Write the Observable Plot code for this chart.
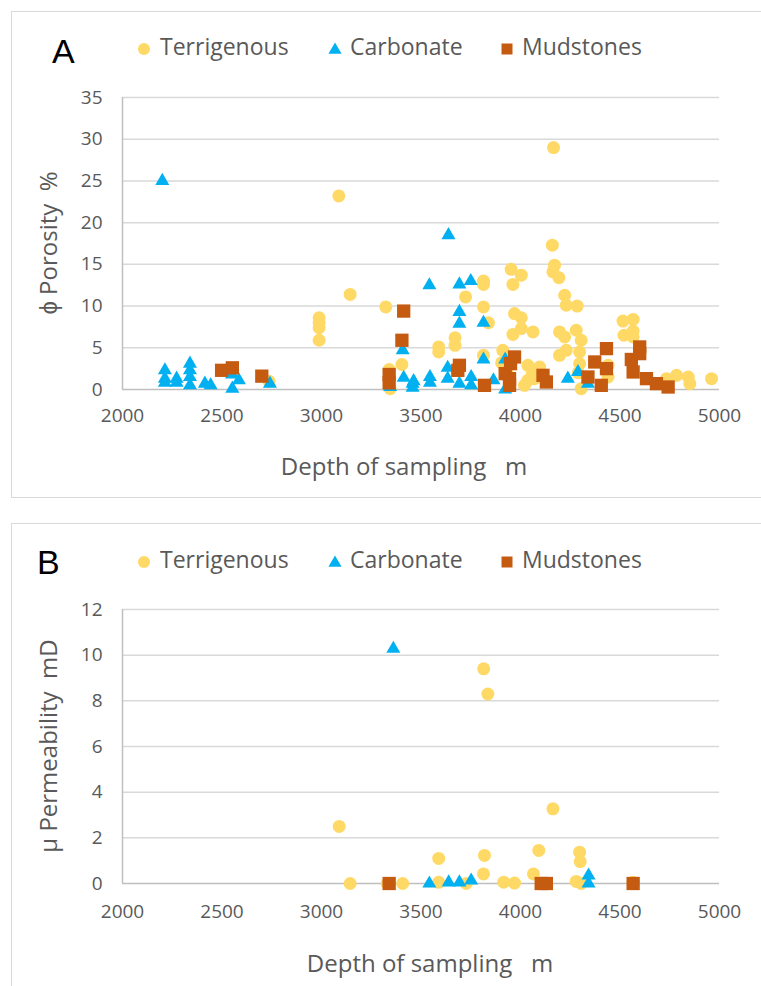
<!DOCTYPE html>
<html>
<head>
<meta charset="utf-8">
<script src="https://cdn.jsdelivr.net/npm/d3@7"></script>
<script src="https://cdn.jsdelivr.net/npm/@observablehq/plot@0.6"></script>
<style>
html, body { margin: 0; padding: 0; background: #fff; overflow: hidden; }
#page { position: relative; width: 761px; height: 986px; overflow: hidden; background: #fff; font-family: "Open Sans", sans-serif; }
.box { position: absolute; border: 1.5px solid #d9d9d9; box-sizing: border-box; }
.plot { position: absolute; left: 0; }
#overlay { position: absolute; left: 0; top: 0; pointer-events: none; }
</style>
</head>
<body>
<div id="page">
  <div class="box" style="left:11px;top:11px;width:770px;height:487px;"></div>
  <div class="box" style="left:11px;top:523px;width:770px;height:480px;"></div>
  <div id="plotA" class="plot" style="top:0px;"></div>
  <div id="plotB" class="plot" style="top:497px;"></div>
</div>
<script>
// ---------- tick labels ----------
const depthTicks = [2000, 2500, 3000, 3500, 4000, 4500, 5000];
const porosityTicks = [0, 5, 10, 15, 20, 25, 30, 35];
const permeabilityTicks = [0, 2, 4, 6, 8, 10, 12];

// ---------- categories ----------
const categories = ["Terrigenous", "Carbonate", "Mudstones"];
const colors = ["#FFD966", "#00B0F0", "#C55A11"];

// ---------- Panel A: porosity (%) vs depth (m) ----------
const poroTerrDepth = [2736, 2988, 2988, 2988, 2988, 3087, 3144, 3323, 3340, 3345, 3404, 3589, 3589, 3671, 3671, 3724,
  3814, 3814, 3814, 3814, 3839, 3911, 3905, 3930, 3953, 4004, 3962, 3970, 4004, 3962, 4004, 4063,
  4037, 4037, 4096, 4020, 4060, 4070, 4166, 4160, 4171, 4163, 4193, 4222, 4230, 4285, 4196, 4222, 4280, 4305,
  4196, 4230, 4297, 4297, 4290, 4305, 4440, 4440, 4515, 4566, 4520, 4566, 4566, 4734, 4784, 4843, 4851, 4960];
const poroTerrValue = [1.0, 8.6, 8.0, 7.4, 5.9, 23.2, 11.4, 9.9, 2.4, 0.1, 3.0, 5.1, 4.5, 6.2, 5.3, 11.1,
  13.0, 12.6, 9.9, 4.1, 8.0, 4.7, 3.2, 2.2, 14.4, 13.7, 12.6, 9.1, 8.6, 6.6, 7.3, 6.9,
  2.9, 1.1, 2.7, 0.5, 2.0, 1.3, 29.0, 17.3, 14.9, 14.1, 13.4, 11.3, 10.1, 10.0, 6.9, 6.3, 7.1, 5.9,
  4.1, 4.7, 4.5, 3.1, 2.0, 0.1, 2.9, 1.5, 8.2, 8.4, 6.5, 6.3, 7.0, 1.3, 1.7, 1.5, 0.7, 1.3];

const poroCarbDepth = [2200, 2213, 2213, 2213, 2272, 2272, 2339, 2339, 2339, 2339, 2414, 2443, 2552, 2550, 2585, 2741,
  3345, 3408, 3413, 3463, 3458, 3458, 3542, 3545, 3545, 3634, 3634, 3638, 3693, 3750, 3693, 3693, 3693,
  3752, 3752, 3814, 3814, 3864, 3923, 3923, 4238, 4289, 4339];
const poroCarbValue = [25.0, 2.3, 1.3, 0.8, 1.3, 0.8, 3.1, 2.3, 1.5, 0.5, 0.7, 0.5, 0.1, 1.8, 1.1, 0.7,
  0.3, 4.7, 1.4, 1.0, 0.2, 0.7, 12.5, 1.5, 0.8, 2.6, 1.3, 18.5, 12.6, 13.0, 9.3, 7.9, 0.7,
  1.5, 0.5, 8.0, 3.6, 1.1, 0.0, 3.6, 1.3, 2.1, 0.7];

const poroMudDepth = [2498, 2552, 2700, 3340, 3340, 3413, 3404, 3693, 3685, 3819, 3923, 3945, 3970, 3945, 3950,
  4113, 4130, 4432, 4373, 4432, 4406, 4339, 4599, 4557, 4599, 4566, 4633, 4683, 4742];
const poroMudValue = [2.3, 2.6, 1.6, 1.8, 0.8, 9.4, 5.9, 2.9, 2.3, 0.5, 1.9, 1.3, 3.9, 0.5, 3.1,
  1.7, 0.9, 4.9, 3.3, 2.5, 0.5, 1.5, 5.1, 3.6, 4.3, 2.1, 1.3, 0.7, 0.3];

// ---------- Panel B: permeability (mD) vs depth (m) ----------
const permTerrDepth = [3089, 3144, 3330, 3408, 3589, 3589, 3727, 3815, 3836, 3819, 3814, 3916, 3970, 4065, 4092, 4163,
  4297, 4300, 4280, 4305, 4566];
const permTerrValue = [2.5, 0.0, 0.0, 0.0, 1.1, 0.05, 0.0, 9.4, 8.3, 1.23, 0.42, 0.06, 0.02, 0.42, 1.45, 3.27,
  1.37, 0.96, 0.09, 0.0, 0.05];

const permCarbDepth = [3361, 3542, 3639, 3693, 3752, 4342, 4342];
const permCarbValue = [10.28, 0.0, 0.05, 0.05, 0.13, 0.35, 0.0];

const permMudDepth = [3340, 4104, 4130, 4566];
const permMudValue = [0.0, 0.0, 0.0, 0.0];

// ---------- build tables ----------
const zip = (d, v) => d.map((x, i) => ({depth: x, value: v[i]}));

function panel(seriesData, yDomain, yTicks, cfg) {
  const symbols = ["circle", "triangle", "square"];
  const radii = [6.5, 5.2, 7.5];
  return Plot.plot({
    width: 761,
    height: cfg.height,
    marginLeft: 122,
    marginRight: 42,
    marginTop: cfg.mt,
    marginBottom: cfg.mb,
    x: {domain: [2000, 5000]},
    y: {domain: yDomain},
    style: {fontFamily: "'Open Sans', sans-serif", fontSize: "19px", color: "#595959", background: "transparent", overflow: "visible"},
    marks: [
      Plot.gridY(yTicks.filter(d => d > 0), {stroke: "#d9d9d9", strokeOpacity: 1, strokeWidth: 1.5}),
      Plot.ruleX([2000], {stroke: "#bfbfbf", strokeWidth: 1.5}),
      Plot.ruleY([0], {stroke: "#bfbfbf", strokeWidth: 1.5}),
      Plot.axisX({ticks: depthTicks, tickSize: 0, tickPadding: cfg.xpad, tickFormat: d => String(d), label: null, fill: "#595959"}),
      Plot.axisY({ticks: yTicks, tickSize: 0, tickPadding: 20, tickFormat: d => String(d), label: null, fill: "#595959"}),
      ...seriesData.map((data, i) => Plot.dot(data, {x: "depth", y: "value", symbol: symbols[i], r: radii[i], fill: colors[i], stroke: "none"}))
    ]
  });
}

const plotA = panel(
  [zip(poroTerrDepth, poroTerrValue), zip(poroCarbDepth, poroCarbValue), zip(poroMudDepth, poroMudValue)],
  [0, 35], porosityTicks, {height: 497, mt: 97, mb: 108, xpad: 19}
);
document.getElementById("plotA").appendChild(plotA);

const plotB = panel(
  [zip(permTerrDepth, permTerrValue), zip(permCarbDepth, permCarbValue), zip(permMudDepth, permMudValue)],
  [0, 12], permeabilityTicks, {height: 489, mt: 112, mb: 103, xpad: 21}
);
document.getElementById("plotB").appendChild(plotB);

// ---------- overlay: panel letters, legends, axis titles ----------
const svg = d3.select("#page").append("svg").attr("id", "overlay").attr("width", 761).attr("height", 986);

function legendAndTitles(g, cfg) {
  g.append("text").attr("x", cfg.letterX).attr("y", cfg.letterY).text(cfg.letter)
    .attr("font-family", "'Liberation Sans', Arial, sans-serif").attr("font-size", 34).attr("fill", "#000");
  const symX = [144, 335, 507];
  const txtX = [160, 350, 522];
  const symTypes = [d3.symbolCircle, d3.symbolTriangle, d3.symbolSquare];
  const symSizes = [Math.PI * 36, 75, 121];
  categories.forEach((c, i) => {
    g.append("path").attr("d", d3.symbol(symTypes[i], symSizes[i])())
      .attr("transform", `translate(${symX[i]},${cfg.legY - 6 + (i === 1 ? 1 : 0)})`).attr("fill", colors[i]);
    g.append("text").attr("x", txtX[i]).attr("y", cfg.legY).text(c)
      .attr("font-family", "'Open Sans', sans-serif").attr("font-size", 23).attr("fill", "#595959");
  });
  g.append("text").attr("x", cfg.xTitleX).attr("y", cfg.xTitleY).attr("text-anchor", "middle")
    .attr("font-family", "'Open Sans', sans-serif").attr("font-size", 24).attr("fill", "#595959")
    .attr("xml:space", "preserve").style("white-space", "pre").text("Depth of sampling   m");
  g.append("text").attr("transform", `translate(${cfg.yTitleX},${cfg.yTitleY}) rotate(-90)`).attr("text-anchor", "middle")
    .attr("font-family", "'Open Sans', sans-serif").attr("font-size", 24).attr("fill", "#595959")
    .style("white-space", "pre").text(cfg.yTitle);
}

legendAndTitles(svg.append("g"), {letter: "A", letterX: 52, letterY: 63, legY: 55, xTitleX: 404, xTitleY: 475, yTitleX: 57, yTitleY: 243, yTitle: "ϕ Porosity  %"});
legendAndTitles(svg.append("g"), {letter: "B", letterX: 37, letterY: 574, legY: 568, xTitleX: 430, xTitleY: 972, yTitleX: 57, yTitleY: 746, yTitle: "μ Permeability  mD"});
</script>
</body>
</html>
